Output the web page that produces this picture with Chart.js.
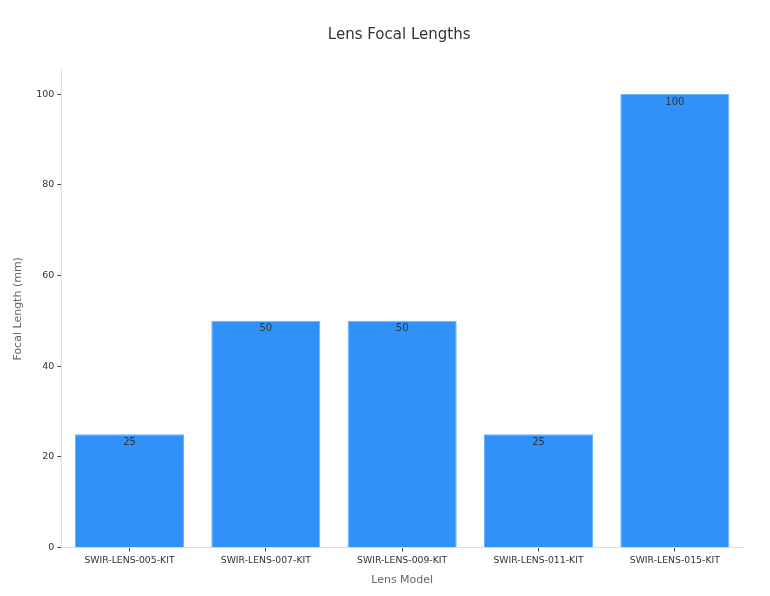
<!DOCTYPE html>
<html>
<head>
<meta charset="utf-8">
<script src="https://cdn.jsdelivr.net/npm/chart.js@4"></script>
<style>
  html, body { margin: 0; padding: 0; background: #fff; }
  #wrap { width: 770px; height: 596px; }
</style>
</head>
<body>
<div id="wrap"><canvas id="lensChart"></canvas></div>
<script>
var lensModels = ["SWIR-LENS-005-KIT", "SWIR-LENS-007-KIT", "SWIR-LENS-009-KIT", "SWIR-LENS-011-KIT", "SWIR-LENS-015-KIT"];
var focalLengths = [25, 50, 50, 25, 100];
var yTicks = [0, 20, 40, 60, 80, 100];
var chartTitle = "Lens Focal Lengths";

// write the value just under the top of each bar, and the title over the plot
var barLabels = {
  id: "barLabels",
  afterDatasetsDraw: function(chart) {
    var ctx = chart.ctx;
    var meta = chart.getDatasetMeta(0);
    ctx.save();
    ctx.font = "10px 'DejaVu Sans'";
    ctx.fillStyle = "#333";
    ctx.textAlign = "center";
    ctx.textBaseline = "middle";
    meta.data.forEach(function(bar, i) {
      ctx.fillText(focalLengths[i], bar.x, bar.y + 8);
    });
    ctx.font = "15px 'DejaVu Sans'";
    ctx.fillText(chartTitle, (chart.chartArea.left + chart.chartArea.right) / 2 - 3, 35);
    ctx.restore();
  }
};

var ctx = document.getElementById("lensChart").getContext("2d");
var lensChart = new Chart(ctx, {
  type: "bar",
  data: {
    labels: lensModels,
    datasets: [{
      data: focalLengths,
      backgroundColor: "#3092f8",
      borderColor: "#6db3fb",
      borderWidth: 1,
      barPercentage: 0.8,
      categoryPercentage: 1
    }]
  },
  options: {
    responsive: true,
    maintainAspectRatio: false,
    animation: false,
    layout: { padding: { top: 70, right: 27, bottom: 5, left: 8 } },
    plugins: {
      legend: { display: false },
      tooltip: { enabled: false },
      title: { display: false }
    },
    scales: {
      x: {
        offset: true,
        border: { color: "#dddddd", width: 1 },
        grid: { offset: false, drawOnChartArea: false, drawTicks: true, tickLength: 4, color: "#444" },
        ticks: { color: "#333", font: { family: "DejaVu Sans", size: 9.3 }, padding: 3, maxRotation: 0 },
        title: {
          display: true,
          text: "Lens Model",
          color: "#666",
          font: { family: "DejaVu Sans", size: 11 },
          padding: { top: 5 }
        }
      },
      y: {
        min: 0,
        max: 105.3,
        border: { color: "#dddddd", width: 1 },
        grid: { drawOnChartArea: false, drawTicks: true, tickLength: 4, color: "#444" },
        afterBuildTicks: function(axis) {
          axis.ticks = yTicks.map(function(v) { return { value: v }; });
        },
        ticks: { color: "#333", font: { family: "DejaVu Sans", size: 9.5 }, padding: 3 },
        title: {
          display: true,
          text: "Focal Length (mm)",
          color: "#666",
          font: { family: "DejaVu Sans", size: 11 },
          padding: { bottom: 8 }
        }
      }
    }
  },
  plugins: [barLabels]
});
</script>
</body>
</html>
